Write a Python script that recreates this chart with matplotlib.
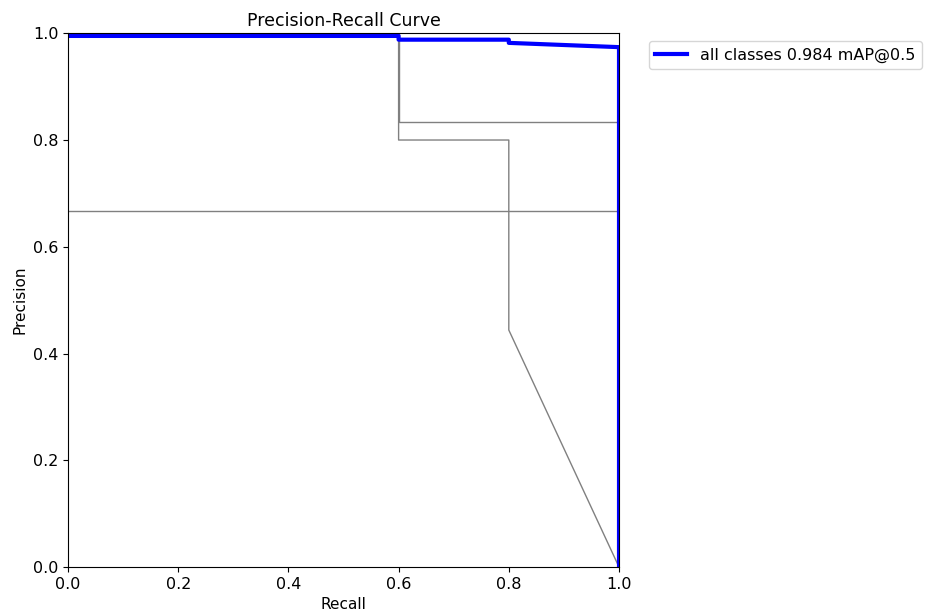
import numpy as np
import matplotlib.pyplot as plt

# per-class PR curves (recall, precision breakpoints)
class_a_recall = [0.0, 0.6, 0.6, 0.8, 0.8, 1.0]
class_a_precision = [1.0, 1.0, 0.8, 0.8, 0.444, 0.0]

class_b_recall = [0.0, 0.6, 0.6, 1.0, 1.0]
class_b_precision = [1.0, 1.0, 0.833, 0.833, 0.0]

class_c_recall = [0.0, 1.0, 1.0]
class_c_precision = [0.667, 0.667, 0.0]

# mean curve over all classes
all_recall = [0.0, 0.6, 0.6, 0.8, 0.8, 1.0, 1.0]
all_precision = [0.995, 0.995, 0.988, 0.988, 0.982, 0.974, 0.0]
map50 = 0.984

fig = plt.figure(figsize=(9.25, 6.16), dpi=100)
ax = fig.add_axes([0.0735, 0.0795, 0.5957, 0.8665])

for r, p in [(class_a_recall, class_a_precision),
             (class_b_recall, class_b_precision),
             (class_c_recall, class_c_precision)]:
    ax.plot(r, p, linewidth=1, color="grey")

ax.plot(all_recall, all_precision, linewidth=3, color="blue",
        label=f"all classes {map50:.3f} mAP@0.5")

ax.set_xlabel("Recall", fontsize=11)
ax.set_ylabel("Precision", fontsize=11)
ax.set_xlim(0, 1)
ax.set_ylim(0, 1)
ax.tick_params(labelsize=11.5)
ax.set_title("Precision-Recall Curve", fontsize=12.5, pad=5)
ax.legend(bbox_to_anchor=(1.04, 1), loc="upper left", fontsize=11.5)

fig.savefig("out.png", dpi=100)
